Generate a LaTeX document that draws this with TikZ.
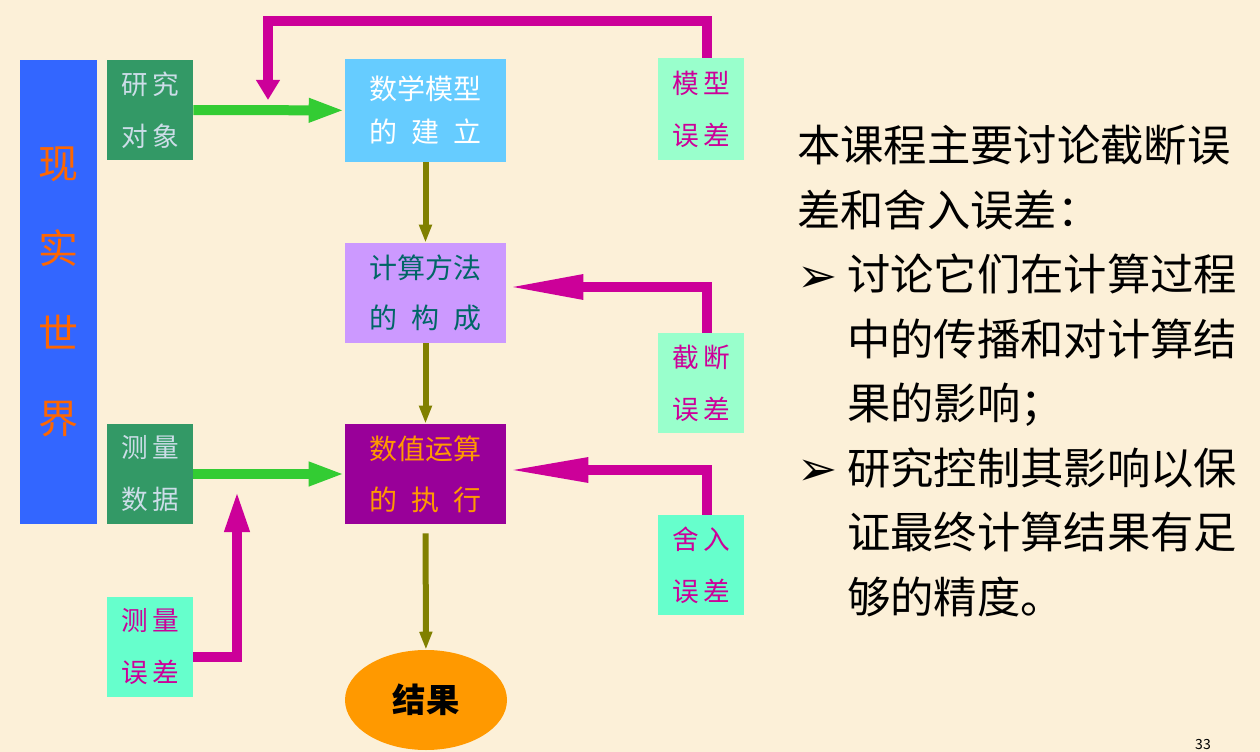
\documentclass[tikz,border=0pt]{standalone}
\usepackage{fontspec}
\usetikzlibrary{arrows.meta,calc,shapes.geometric}
\setmainfont{Noto Sans CJK SC}
\newfontfamily\dingfont{DejaVu Sans}
\definecolor{paper}{HTML}{FCF0D8}
\definecolor{royal}{HTML}{3366FF}
\definecolor{flame}{HTML}{FF6600}
\definecolor{leaf}{HTML}{339966}
\definecolor{mist}{HTML}{CCDDE8}
\definecolor{aqua}{HTML}{66FFCC}
\definecolor{mint}{HTML}{99FFCC}
\definecolor{rose}{HTML}{CC0099}
\definecolor{sky}{HTML}{66CCFF}
\definecolor{lilac}{HTML}{CC99FF}
\definecolor{deepteal}{HTML}{006666}
\definecolor{plum}{HTML}{990099}
\definecolor{amber}{HTML}{FF9900}
\definecolor{grass}{HTML}{33CC33}
\definecolor{olivebar}{HTML}{808000}
\newcommand{\boxtxt}{\fontsize{21}{38}\selectfont}
\newcommand{\tagtxt}{\fontsize{20}{39}\selectfont}
\newcommand{\bodytxt}{\fontsize{32.5}{48.4}\selectfont}
\newcommand{\bul}{\makebox[37.5pt][l]{\dingfont\fontsize{36}{36}\selectfont\raisebox{-1pt}{➢}}}

\begin{document}
\begin{tikzpicture}[x=0.75pt,y=-0.75pt,
  stepbox/.style={inner sep=0,minimum width=120.75pt,minimum height=75pt,align=center,font=\boxtxt},
  tagbox/.style={inner sep=0,minimum width=64.5pt,minimum height=75pt,align=center,font=\tagtxt},
  errbox/.style={tagbox,text=rose},
  feed/.style={rose,line width=7.5pt,line join=miter,-{Triangle[length=#1,width=17pt]}},
  feed/.default=15pt,
  pass/.style={grass,line width=7.5pt,-{Triangle[length=27pt,width=16.5pt]}},
  flow/.style={olivebar,line width=4.5pt,-{Triangle[length=13.5pt,width=9pt]}}]
\fill[paper] (0,0) rectangle (1260,752);
\useasboundingbox (0,0) rectangle (1260,752);
\node[fill=royal,inner sep=0,minimum width=57.75pt,minimum height=348pt,align=center,text=flame,font=\fontsize{30}{63.75}\selectfont] (world) at (58.5,292) {现\\实\\世\\界};
\node[tagbox,fill=leaf,text=mist] (object) at (150,110) {研\,究\\对\,象};
\node[tagbox,fill=leaf,text=mist] (data) at (150,474) {测\,量\\数\,据};
\node[errbox,fill=aqua] (measerr) at (150,647) {测\,量\\误\,差};
\node[stepbox,fill=sky,text=white,minimum height=77.25pt,font=\fontsize{21}{32}\selectfont] (model) at (425.5,110.5) {数学模型\\的\hspace{0.5em}建\hspace{0.5em}立};
\node[stepbox,fill=lilac,text=deepteal] (method) at (425.5,293) {计算方法\\的\hspace{0.5em}构\hspace{0.5em}成};
\node[stepbox,fill=plum,text=amber] (exec) at (425.5,474) {数值运算\\的\hspace{0.5em}执\hspace{0.5em}行};
\node[ellipse,fill=amber,inner sep=0,minimum width=121.5pt,minimum height=75pt,font=\fontsize{25}{25}\selectfont\bfseries] (result) at (426,700) {结果};
\node[errbox,fill=mint,minimum height=76.5pt] (modelerr) at (701,109) {模\,型\\误\,差};
\node[errbox,fill=mint] (trunc) at (701,383) {截\,断\\误\,差};
\node[errbox,fill=aqua] (rounderr) at (701,565) {舍\,入\\误\,差};
\coordinate (mtop) at (268,21);
\coordinate (mhead) at (268,100);
\coordinate (dbend) at (237,657);
\coordinate (dhead) at (237,490);
\draw[pass] (object) -- (model);
\draw[pass] (data) -- (exec);
\draw[flow] (model) -- (method);
\draw[flow] (method) -- (exec);
\draw[flow,shorten <=6.75pt] (exec) -- (result);
\draw[feed=15pt] ([xshift=4.5pt]modelerr.north) |- (mtop) -- (mhead);
\draw[feed=57.75pt] ([xshift=4.5pt]trunc.north) |- ($(method.east)+(0,-6)$);
\draw[feed=61.5pt] ([xshift=4.5pt]rounderr.north) |- ($(exec.east)+(0,-4)$);
\draw[feed=31.5pt] (measerr.east |- dbend) -| (dhead);
\node[anchor=north west,inner sep=0,align=left,font=\bodytxt] (notes) at (797,125) {本课程主要讨论截断误\\差和舍入误差：\\\bul 讨论它们在计算过程\\\hspace*{37.5pt}中的传播和对计算结\\\hspace*{37.5pt}果的影响；\\\bul 研究控制其影响以保\\\hspace*{37.5pt}证最终计算结果有足\\\hspace*{37.5pt}够的精度。};
\node[font=\fontsize{10.5}{12}\selectfont] (pagenum) at (1203,745) {33};
\end{tikzpicture}
\end{document}
